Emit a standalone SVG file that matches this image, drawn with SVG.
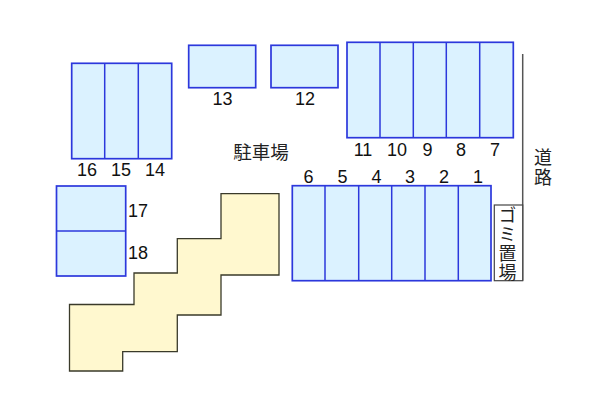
<svg xmlns="http://www.w3.org/2000/svg" width="600" height="400" viewBox="0 0 600 400">
<style>
.b{fill:#dbf2ff;stroke:#2c38dc;stroke-width:1.7}
.d{fill:none;stroke:#2c38dc;stroke-width:1.5}
.n{font-family:"Liberation Sans",Arial,sans-serif;font-size:18px;fill:#111;text-anchor:middle}
.j{font-family:"Noto Sans CJK JP","Noto Sans CJK SC",sans-serif;font-size:18.5px;fill:#222;text-anchor:middle}
.v{font-family:"Noto Sans CJK JP","Noto Sans CJK SC",sans-serif;font-size:18px;fill:#222;writing-mode:vertical-rl;text-anchor:start}
</style>
<rect width="600" height="400" fill="#fff"/>
<g id="units-7-11"><rect class="b" x="347" y="42.3" width="166.3" height="95.4"/><path class="d" d="M380 42.3V137.7M413.3 42.3V137.7M446.3 42.3V137.7M479.7 42.3V137.7"/>
<text class="n" x="363" y="155.5">11</text><text class="n" x="397" y="155.5">10</text><text class="n" x="427.5" y="155.5">9</text><text class="n" x="461" y="155.5">8</text><text class="n" x="495" y="155.5">7</text></g>
<g id="units-1-6"><rect class="b" x="292.3" y="185.7" width="198.7" height="95"/><path class="d" d="M325 185.7V280.7M358.7 185.7V280.7M391.7 185.7V280.7M425 185.7V280.7M458.3 185.7V280.7"/>
<text class="n" x="308.5" y="183">6</text><text class="n" x="342.5" y="183">5</text><text class="n" x="376.5" y="183">4</text><text class="n" x="410" y="183">3</text><text class="n" x="444" y="183">2</text><text class="n" x="478" y="183">1</text></g>
<g id="unit-12"><rect class="b" x="271" y="45.3" width="67" height="42.4"/><text class="n" x="305" y="104.5">12</text></g>
<g id="unit-13"><rect class="b" x="188.7" y="45.3" width="67" height="42.4"/><text class="n" x="222.5" y="104.5">13</text></g>
<g id="units-14-16"><rect class="b" x="71.7" y="63.3" width="100" height="95.4"/><path class="d" d="M104.7 63.3V158.7M138.3 63.3V158.7"/>
<text class="n" x="87" y="176">16</text><text class="n" x="121" y="176">15</text><text class="n" x="155" y="176">14</text></g>
<g id="units-17-18"><rect class="b" x="56.5" y="186" width="69.2" height="90"/><path class="d" d="M56.5 231H125.7"/>
<text class="n" x="138" y="217">17</text><text class="n" x="138" y="259">18</text></g>
<g id="building"><path d="M221 193.7H279V275H221V315H177.3V351.7H122.7V371H69.5V304.5H134V273H177.3V238.7H221Z" fill="#fff8cf" stroke="#3a3a2a" stroke-width="1.3"/></g>
<g id="parking"><text class="j" x="261" y="158.5">駐車場</text></g>
<g id="road"><path d="M522.7 54V280.7" fill="none" stroke="#555" stroke-width="1.5"/><text class="v" x="543" y="148.5" letter-spacing="2">道路</text></g>
<g id="garbage"><rect x="494.3" y="205" width="28.4" height="75.7" fill="#fff" stroke="#444" stroke-width="1.2"/>
<text class="v" x="507.5" y="206" letter-spacing="1.2">ゴミ置場</text></g>
</svg>
